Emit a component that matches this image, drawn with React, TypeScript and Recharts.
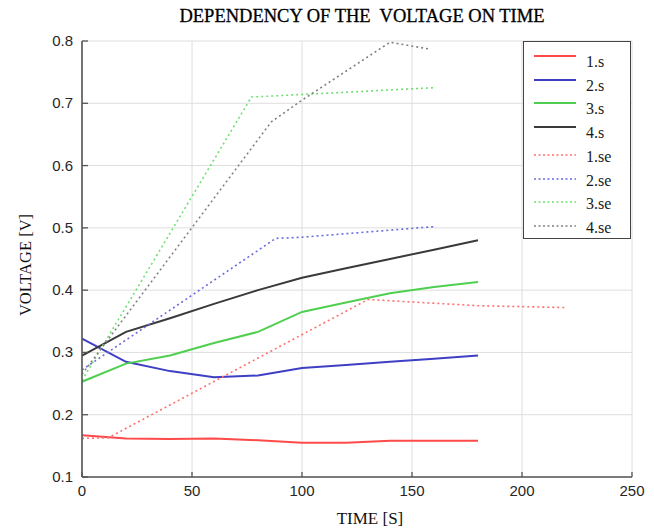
import { LineChart, Line, XAxis, YAxis, CartesianGrid } from "recharts";

// time axis of the measured series (s)
const TIME_S = [0, 20, 40, 60, 80, 100, 120, 140, 160, 180];
const V_1S = [0.167, 0.162, 0.161, 0.162, 0.159, 0.155, 0.155, 0.158, 0.158, 0.158];
const V_2S = [0.322, 0.285, 0.27, 0.26, 0.263, 0.275, 0.28, 0.285, 0.29, 0.295];
const V_3S = [0.253, 0.282, 0.295, 0.315, 0.333, 0.365, 0.38, 0.395, 0.405, 0.413];
const V_4S = [0.295, 0.333, 0.355, 0.378, 0.4, 0.42, 0.435, 0.45, 0.465, 0.48];

// estimated series (own time points)
const TIME_1SE = [0, 12, 130, 180, 220];
const V_1SE = [0.162, 0.163, 0.385, 0.375, 0.372];
const TIME_2SE = [0, 88, 100, 160];
const V_2SE = [0.272, 0.483, 0.485, 0.502];
const TIME_3SE = [0, 77, 160];
const V_3SE = [0.255, 0.71, 0.725];
const TIME_4SE = [0, 86, 100, 140, 158];
const V_4SE = [0.265, 0.67, 0.705, 0.798, 0.787];

const X_TICKS = [0, 50, 100, 150, 200, 250];
const Y_TICKS = [0.1, 0.2, 0.3, 0.4, 0.5, 0.6, 0.7, 0.8];

const toPts = (t: number[], v: number[]) => t.map((x, i) => ({ t: x, v: v[i] }));

const SERIES = [
  { name: "1.s", data: toPts(TIME_S, V_1S), color: "#ff4a4a", dotted: false },
  { name: "2.s", data: toPts(TIME_S, V_2S), color: "#3f3fc4", dotted: false },
  { name: "3.s", data: toPts(TIME_S, V_3S), color: "#4fcf4f", dotted: false },
  { name: "4.s", data: toPts(TIME_S, V_4S), color: "#3a3a3a", dotted: false },
  { name: "1.se", data: toPts(TIME_1SE, V_1SE), color: "#ff6f6f", dotted: true },
  { name: "2.se", data: toPts(TIME_2SE, V_2SE), color: "#6a6ade", dotted: true },
  { name: "3.se", data: toPts(TIME_3SE, V_3SE), color: "#6fe06f", dotted: true },
  { name: "4.se", data: toPts(TIME_4SE, V_4SE), color: "#808080", dotted: true },
];

const AXIS = "#555";
const TICK_FONT = "'Liberation Sans', Arial, sans-serif";
const SERIF = "'Liberation Serif', 'Times New Roman', serif";
const TICK_LEN = 5;
const GAP = 8;

// bottom axis: label + inward tick
// eslint-disable-next-line @typescript-eslint/no-explicit-any
function BottomTick(props: any) {
  const { x, y, payload } = props;
  const ay = y - GAP;
  return (
    <g>
      <line x1={x} y1={ay} x2={x} y2={ay - TICK_LEN} stroke={AXIS} strokeWidth={1.3} />
      <text x={x} y={ay + 19} textAnchor="middle" fontFamily={TICK_FONT} fontSize={15} fill="#262626">
        {payload.value}
      </text>
    </g>
  );
}

// eslint-disable-next-line @typescript-eslint/no-explicit-any
function LeftTick(props: any) {
  const { x, y, payload } = props;
  const ax = x + GAP;
  return (
    <g>
      <line x1={ax} y1={y} x2={ax + TICK_LEN + 1} y2={y} stroke={AXIS} strokeWidth={1.3} />
      <text x={ax - 9} y={y + 5} textAnchor="end" fontFamily={TICK_FONT} fontSize={15} fill="#262626">
        {Number(payload.value).toFixed(1)}
      </text>
    </g>
  );
}

// eslint-disable-next-line @typescript-eslint/no-explicit-any
function TopTick(props: any) {
  const { x, y } = props;
  return <line x1={x} y1={y} x2={x} y2={y + TICK_LEN} stroke={AXIS} strokeWidth={1.3} />;
}

// eslint-disable-next-line @typescript-eslint/no-explicit-any
function RightTick(props: any) {
  const { x, y } = props;
  return <line x1={x} y1={y} x2={x - TICK_LEN} y2={y} stroke={AXIS} strokeWidth={1.3} />;
}

function ChartLegend() {
  return (
    <div
      style={{
        position: "absolute",
        left: 523,
        top: 41,
        width: 108,
        height: 198,
        border: "1.5px solid #444",
        background: "#fff",
        boxSizing: "border-box",
      }}
    >
      {SERIES.map((s, i) => (
        <div key={s.name} style={{ position: "absolute", left: 0, top: 8 + i * 23.7, height: 24, width: 106 }}>
          <svg width={50} height={24} style={{ position: "absolute", left: 8, top: 0 }}>
            <line
              x1={2}
              y1={s.dotted ? 10 : 6}
              x2={44}
              y2={s.dotted ? 10 : 6}
              stroke={s.color}
              strokeWidth={s.dotted ? 1.6 : 2.2}
              strokeDasharray={s.dotted ? "2 2.5" : undefined}
            />
          </svg>
          <span
            style={{
              position: "absolute",
              left: 62,
              top: 3,
              fontFamily: SERIF,
              fontSize: 16,
              color: "#1a1a1a",
              lineHeight: "18px",
            }}
          >
            {s.name}
          </span>
        </div>
      ))}
    </div>
  );
}

export default function App() {
  return (
    <div style={{ position: "absolute", left: 0, top: 0, width: 654, height: 532, background: "#fff" }}>
      <div
        style={{
          position: "absolute",
          left: 0,
          width: 724,
          top: 6,
          textAlign: "center",
          fontFamily: SERIF,
          fontSize: 18.5,
          color: "#000",
          whiteSpace: "pre",
          WebkitTextStroke: "0.3px #000",
        }}
      >
        {"DEPENDENCY OF THE  VOLTAGE ON TIME"}
      </div>
      <LineChart
        width={654}
        height={532}
        margin={{ top: 41, right: 22, bottom: 0, left: 0 }}
        style={{ position: "absolute", left: 0, top: 0 }}
      >
        <CartesianGrid stroke="#dedede" strokeWidth={1} xAxisId="b" yAxisId="l" />
        <XAxis
          xAxisId="b"
          dataKey="t"
          type="number"
          domain={[0, 250]}
          ticks={X_TICKS}
          allowDataOverflow
          height={55}
          tickSize={0}
          tickMargin={GAP}
          tickLine={false}
          axisLine={{ stroke: AXIS, strokeWidth: 1.6 }}
          tick={<BottomTick />}
        />
        <XAxis
          xAxisId="t"
          orientation="top"
          dataKey="t"
          type="number"
          domain={[0, 250]}
          ticks={X_TICKS}
          height={0}
          tickSize={0}
          tickMargin={0}
          tickLine={false}
          axisLine={{ stroke: AXIS, strokeWidth: 1.6 }}
          tick={<TopTick />}
        />
        <YAxis
          yAxisId="l"
          type="number"
          domain={[0.1, 0.8]}
          ticks={Y_TICKS}
          allowDataOverflow
          width={82}
          tickSize={0}
          tickMargin={GAP}
          tickLine={false}
          axisLine={{ stroke: AXIS, strokeWidth: 1.6 }}
          tick={<LeftTick />}
        />
        <YAxis
          yAxisId="r"
          orientation="right"
          type="number"
          domain={[0.1, 0.8]}
          ticks={Y_TICKS}
          width={0}
          tickSize={0}
          tickMargin={0}
          tickLine={false}
          axisLine={{ stroke: AXIS, strokeWidth: 1.6 }}
          tick={<RightTick />}
        />
        {SERIES.map((s) => (
          <Line
            key={s.name}
            xAxisId="b"
            yAxisId="l"
            data={s.data}
            dataKey="v"
            name={s.name}
            type="linear"
            stroke={s.color}
            strokeWidth={s.dotted ? 1.6 : 2}
            strokeDasharray={s.dotted ? "2 3" : undefined}
            dot={false}
            isAnimationActive={false}
          />
        ))}
      </LineChart>
      <ChartLegend />
      <div
        style={{
          position: "absolute",
          left: 370,
          top: 509,
          transform: "translateX(-50%)",
          fontFamily: SERIF,
          fontSize: 17,
          color: "#111",
          whiteSpace: "pre",
        }}
      >
        TIME [S]
      </div>
      <div
        style={{
          position: "absolute",
          left: 26,
          top: 265,
          transform: "translate(-50%, -50%) rotate(-90deg)",
          fontFamily: SERIF,
          fontSize: 16.5,
          color: "#111",
          whiteSpace: "pre",
        }}
      >
        VOLTAGE [V]
      </div>
    </div>
  );
}
